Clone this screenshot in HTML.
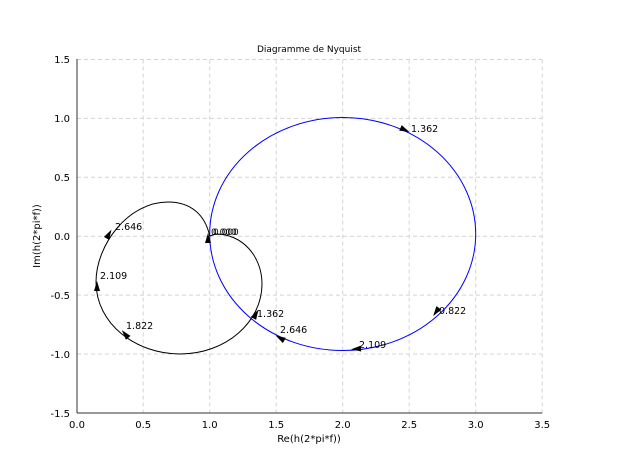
<!DOCTYPE html>
<html><head><meta charset="utf-8"><style>
html,body{margin:0;padding:0;background:#fff;}
svg{display:block;font-family:"DejaVu Sans","Liberation Sans",sans-serif;}
</style></head><body>
<svg width="618" height="472" viewBox="0 0 618 472" xmlns="http://www.w3.org/2000/svg">
<rect width="618" height="472" fill="#fff"/>
<g stroke="#d4d4d4" stroke-width="1" stroke-dasharray="4,3" fill="none">
<line x1="143.2" y1="59.5" x2="143.2" y2="413"/>
<line x1="209.7" y1="59.5" x2="209.7" y2="413"/>
<line x1="276.2" y1="59.5" x2="276.2" y2="413"/>
<line x1="342.7" y1="59.5" x2="342.7" y2="413"/>
<line x1="409.2" y1="59.5" x2="409.2" y2="413"/>
<line x1="475.7" y1="59.5" x2="475.7" y2="413"/>
<line x1="542.2" y1="59.5" x2="542.2" y2="413"/>
<line x1="77" y1="59.5" x2="542.2" y2="59.5"/>
<line x1="77" y1="118.4" x2="542.2" y2="118.4"/>
<line x1="77" y1="177.3" x2="542.2" y2="177.3"/>
<line x1="77" y1="236.2" x2="542.2" y2="236.2"/>
<line x1="77" y1="295.1" x2="542.2" y2="295.1"/>
<line x1="77" y1="354" x2="542.2" y2="354"/>
</g>
<g stroke="#333" stroke-width="1" fill="none">
<line x1="77" y1="59" x2="77" y2="413"/>
<line x1="77" y1="413" x2="542.2" y2="413"/>
</g>
<g id="ticks" stroke="#333" stroke-width="1"></g>
<text x="309" y="52" font-size="9" text-anchor="middle" fill="#000">Diagramme de Nyquist</text>
<g font-size="10" fill="#000" text-anchor="end">
<text x="70" y="63">1.5</text><text x="70" y="122">1.0</text><text x="70" y="181">0.5</text>
<text x="70" y="240">0.0</text><text x="70" y="299">-0.5</text><text x="70" y="358">-1.0</text><text x="70" y="417">-1.5</text>
</g>
<g font-size="10" fill="#000" text-anchor="middle">
<text x="77" y="428">0.0</text><text x="143.2" y="428">0.5</text><text x="209.7" y="428">1.0</text>
<text x="276.2" y="428">1.5</text><text x="342.7" y="428">2.0</text><text x="409.2" y="428">2.5</text>
<text x="475.7" y="428">3.0</text><text x="542.2" y="428">3.5</text>
</g>
<text x="309" y="442" font-size="10" text-anchor="middle">Re(h(2*pi*f))</text>
<text transform="translate(40,236) rotate(-90)" font-size="10" text-anchor="middle">Im(h(2*pi*f))</text>
<ellipse cx="342.7" cy="234" rx="133" ry="116.5" fill="none" stroke="#0000ff" stroke-width="1"/>
<path d="M209.7,236 C205,214 190,202 168,202 C128,202 96,245 96,282 C96,324 136,354 180,354 C226,354 262,322 262,284 C262,256 242,234 216,234 L209.7,236" fill="none" stroke="#000" stroke-width="1"/>
<g fill="#000">
<polygon points="-5,-3 5,0 -5,3" transform="translate(405,130) rotate(25)"/>
<polygon points="-5,-3 5,0 -5,3" transform="translate(436,312) rotate(125)"/>
<polygon points="-5,-3 5,0 -5,3" transform="translate(356,349) rotate(175)"/>
<polygon points="-5,-3 5,0 -5,3" transform="translate(280,338) rotate(210)"/>
<polygon points="-5,-3 5,0 -5,3" transform="translate(256,314) rotate(-60)"/>
<polygon points="-5,-3 5,0 -5,3" transform="translate(109,234) rotate(-60)"/>
<polygon points="-5,-3 5,0 -5,3" transform="translate(97,286) rotate(-90)"/>
<polygon points="-5,-3 5,0 -5,3" transform="translate(125,334) rotate(-130)"/>
<polygon points="-5,-3 5,0 -5,3" transform="translate(208,238) rotate(-90)"/>
</g>
<g font-size="9.5" fill="#000">
<text x="411" y="132">1.362</text><text x="439" y="314">0.822</text><text x="359" y="348">2.109</text>
<text x="280" y="333">2.646</text><text x="257" y="317">1.362</text><text x="115" y="230">2.646</text>
<text x="100" y="279">2.109</text><text x="126" y="329">1.822</text>
<text x="211" y="235" font-size="9">0.000</text><text x="213" y="235" font-size="9">0.000</text>
</g>
<script>
var g=document.getElementById('ticks'),s='';
for(var i=0;i<=21;i++){var x=77+i*133/6;s+='<line x1="'+x+'" y1="413" x2="'+x+'" y2="'+(i%3==0?408:410)+'"/>';}
for(var j=0;j<=24;j++){var y=59.5+j*353.5/24;s+='<line x1="77" y1="'+y+'" x2="'+(j%4==0?82:80)+'" y2="'+y+'"/>';}
g.innerHTML=s;
</script>
</svg>
</body></html>
